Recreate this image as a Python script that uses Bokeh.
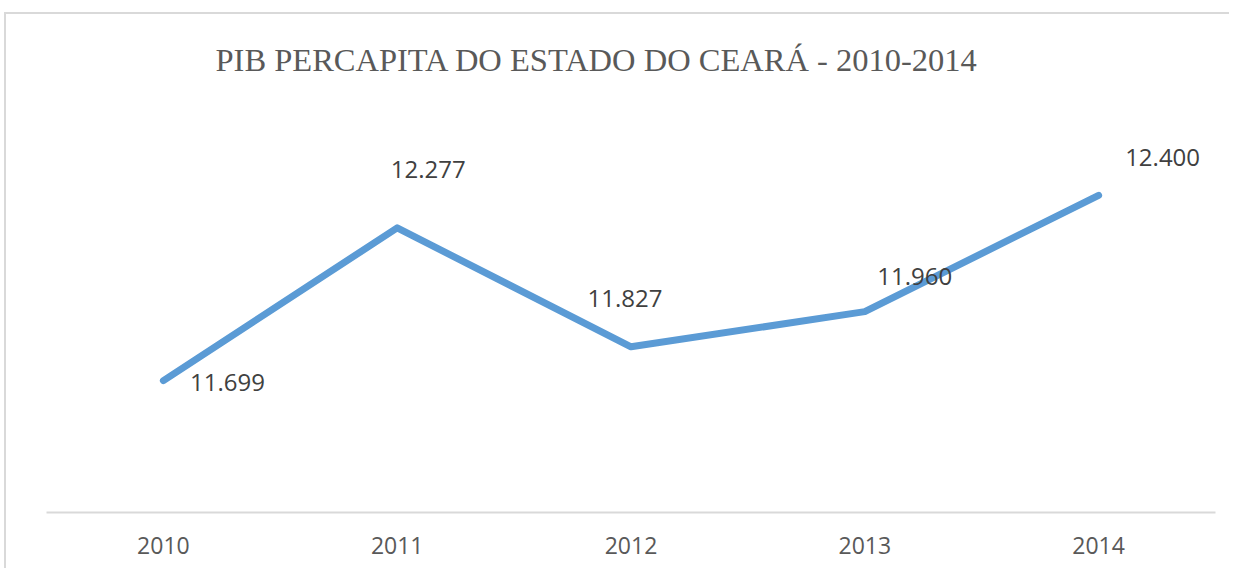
from bokeh.plotting import figure
from bokeh.models import ColumnDataSource, Range1d, FactorRange, Title
from bokeh.embed import file_html
from bokeh.resources import INLINE
from bokeh.core.properties import value

years = ["2010", "2011", "2012", "2013", "2014"]
pib = [11.699, 12.277, 11.827, 11.960, 12.400]
labels = ["11.699", "12.277", "11.827", "11.960", "12.400"]
title_text = "PIB PERCAPITA DO ESTADO DO CEARÁ - 2010-2014"

# label placement offsets (screen pixels), style only
label_dx = [64, 31, -6, 50, 64]
label_dy = [2, -58, -48, -35, -38]

src = ColumnDataSource(dict(x=years, y=pib, lab=labels, dx=label_dx, dy=label_dy))

p = figure(width=1225, height=556, x_range=FactorRange(*years), y_range=Range1d(11.2, 12.6),
           output_backend="svg", toolbar_location=None, y_axis_location=None, title=None,
           min_border_left=40, min_border_right=16, min_border_bottom=58, min_border_top=0)
p.styles = {"border-top": "2px solid #d9d9d9", "border-left": "2px solid #d9d9d9",
            "margin-top": "12px", "margin-left": "4px"}

# empty spacer title between frame and the real title
spacer = Title(text=" ", text_font_size="1px", standoff=37)
p.add_layout(spacer, "above")

main_title = Title(text=title_text, text_font="Liberation Serif", text_font_size="32.5px",
                   text_font_style="normal", text_color="#595959", align="left",
                   offset=169, standoff=50)
p.add_layout(main_title, "above")

p.outline_line_color = None
p.xgrid.grid_line_color = None
p.ygrid.grid_line_color = None

p.x_range.range_padding = 0
p.xaxis.axis_line_color = "#d9d9d9"
p.xaxis.axis_line_width = 2
p.xaxis.major_tick_line_color = None
p.xaxis.minor_tick_line_color = None
p.xaxis.major_label_text_font = "Open Sans"
p.xaxis.major_label_text_font_size = "23px"
p.xaxis.major_label_text_color = "#595959"
p.xaxis.major_label_standoff = 18

p.line("x", "y", source=src, line_color="#5b9bd5", line_width=7, line_cap="round", line_join="round")

p.text("x", "y", text="lab", source=src, x_offset="dx", y_offset="dy",
       text_font=value("Open Sans"), text_font_size="24px", text_color="#404040",
       text_align="center", text_baseline="middle")

open("out.html", "w").write(file_html(p, INLINE))
